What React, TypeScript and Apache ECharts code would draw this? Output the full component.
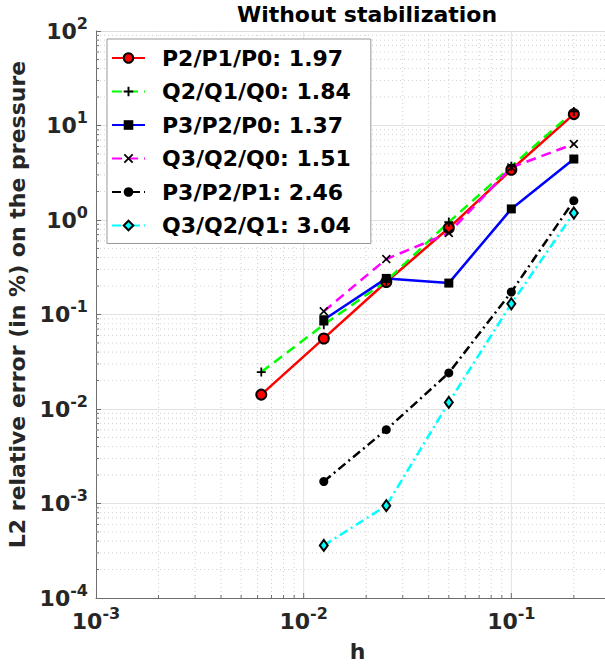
import React, { useEffect, useRef } from "react";
import * as echarts from "echarts";

const H = [0.00625, 0.0125, 0.025, 0.05, 0.1, 0.2];
const P2P1P0 = [0.0142, 0.0558, 0.221, 0.822, 3.4, 13.2];
const Q2Q1Q0 = [0.0246, 0.078, 0.226, 0.95, 3.7, 14.1];
const P3P2P0 = [null, 0.088, 0.241, 0.215, 1.31, 4.42];
const Q3Q2Q0 = [null, 0.108, 0.386, 0.728, 3.6, 6.37];
const P3P2P1 = [null, 0.00171, 0.00604, 0.0241, 0.173, 1.6];
const Q3Q2Q1 = [null, 0.00036, 0.000948, 0.01175, 0.13, 1.186];

const NAMES = [
  "P2/P1/P0: 1.97",
  "Q2/Q1/Q0: 1.84",
  "P3/P2/P0: 1.37",
  "Q3/Q2/Q0: 1.51",
  "P3/P2/P1: 2.46",
  "Q3/Q2/Q1: 3.04",
];

const X_MIN = 1e-3;
const X_MAX = 0.33;
const Y_MIN = 1e-4;
const Y_MAX = 1e2;

const X_MAJOR = [0.01, 0.1];
const X_MINOR = [
  0.002, 0.003, 0.004, 0.005, 0.006, 0.007, 0.008, 0.009,
  0.02, 0.03, 0.04, 0.05, 0.06, 0.07, 0.08, 0.09,
  0.2, 0.3,
];
const Y_MINOR = [
  2e-4, 3e-4, 4e-4, 5e-4, 6e-4, 7e-4, 8e-4, 9e-4,
  2e-3, 3e-3, 4e-3, 5e-3, 6e-3, 7e-3, 8e-3, 9e-3,
  2e-2, 3e-2, 4e-2, 5e-2, 6e-2, 7e-2, 8e-2, 9e-2,
  0.2, 0.3, 0.4, 0.5, 0.6, 0.7, 0.8, 0.9,
  2, 3, 4, 5, 6, 7, 8, 9,
  20, 30, 40, 50, 60, 70, 80, 90,
];

const FONT = "DejaVu Sans";
const PLUS = "path://M4,0H6V4H10V6H6V10H4V6H0V4H4Z";
const CROSS = "path://M1.3,0L5,3.7L8.7,0L10,1.3L6.3,5L10,8.7L8.7,10L5,6.3L1.3,10L0,8.7L3.7,5L0,1.3Z";

function pairs(vals: (number | null)[]) {
  const out: number[][] = [];
  vals.forEach((v, i) => {
    if (v !== null) out.push([H[i], v]);
  });
  return out;
}

function logLabel(v: number) {
  const e = Math.log10(v);
  const r = Math.round(e);
  if (Math.abs(e - r) > 1e-6) return "";
  return "{b|10}{s|" + r + "}";
}

const richLabel = {
  b: { fontSize: 22, fontWeight: "bold", color: "#262626", fontFamily: FONT },
  s: {
    fontSize: 16,
    fontWeight: "bold",
    color: "#262626",
    fontFamily: FONT,
    padding: [0, 0, 16, 0],
  },
};

export default function App() {
  const ref = useRef<HTMLDivElement>(null);
  useEffect(() => {
    if (!ref.current) return;
    const chart = echarts.init(ref.current, undefined, { renderer: "svg" });

    const mk = (
      name: string,
      vals: (number | null)[],
      color: string,
      type: any,
      symbol: string,
      symbolSize: any,
      fill: string,
      border: number
    ) => ({
      name,
      type: "line",
      data: pairs(vals),
      symbol,
      symbolSize,
      showSymbol: true,
      lineStyle: { color, width: 2.5, type },
      itemStyle: { color: fill, borderColor: "#000", borderWidth: border },
      emphasis: { disabled: true },
      z: 3,
    });

    const vLines = (vals: number[], dash: number[] | null, color: string, tick: number) => ({
      type: "custom",
      z: 1,
      silent: true,
      data: vals.map((x) => [x, Y_MIN]),
      renderItem: (params: any, api: any) => {
        const x = api.value(0);
        const top = api.coord([x, Y_MAX]);
        const bot = api.coord([x, Y_MIN]);
        return {
          type: "group",
          children: [
            {
              type: "line",
              shape: { x1: top[0], y1: top[1], x2: bot[0], y2: bot[1] },
              style: dash
                ? { stroke: color, lineWidth: 1, lineDash: dash }
                : { stroke: color, lineWidth: 1 },
            },
            {
              type: "line",
              shape: { x1: bot[0], y1: bot[1], x2: bot[0], y2: bot[1] - tick },
              style: { stroke: "#6e6e6e", lineWidth: 1 },
            },
          ],
        };
      },
    });

    chart.setOption({
      animation: false,
      title: {
        text: "Without stabilization",
        left: 362,
        textAlign: "center",
        top: -2,
        textStyle: { fontSize: 22, fontWeight: "bold", color: "#000", fontFamily: FONT },
      },
      grid: {
        left: 96,
        top: 31,
        width: 523,
        height: 567,
        show: false,
        containLabel: false,
        outerBoundsMode: "none",
      },
      legend: {
        data: NAMES,
        orient: "vertical",
        left: 107,
        top: 39,
        itemWidth: 33,
        itemHeight: 12,
        itemGap: 7.5,
        padding: [6, 20, 5, 4],
        backgroundColor: "#fff",
        borderColor: "#999",
        borderWidth: 1,
        borderRadius: 0,
        textStyle: {
          fontSize: 22,
          fontWeight: "bold",
          color: "#000",
          fontFamily: FONT,
          lineHeight: 26,
          padding: [0, 0, 0, 12],
        },
        selectedMode: false,
      },
      xAxis: [
        {
          type: "log",
          logBase: 10,
          min: X_MIN,
          max: X_MAX,
          name: "h",
          nameLocation: "middle",
          nameGap: 42,
          nameTextStyle: { fontSize: 22, fontWeight: "bold", color: "#262626", fontFamily: FONT },
          axisLine: { show: true, onZero: false, lineStyle: { color: "#6e6e6e", width: 1 } },
          axisTick: { show: false },
          axisLabel: { formatter: logLabel, rich: richLabel, margin: 7, showMaxLabel: false },
          splitLine: { show: false },
          minorTick: { show: false },
          minorSplitLine: { show: false },
        },
        {
          type: "log",
          logBase: 10,
          min: X_MIN,
          max: X_MAX,
          position: "top",
          axisLine: { show: true, onZero: false, lineStyle: { color: "#dcdcdc", width: 1 } },
          axisTick: { show: false },
          axisLabel: { show: false },
          splitLine: { show: false },
        },
      ],
      yAxis: {
        type: "log",
        logBase: 10,
        min: Y_MIN,
        max: Y_MAX,
        name: "L2 relative error (in %) on the pressure",
        nameLocation: "middle",
        nameGap: 54,
        nameTextStyle: {
          fontSize: 22,
          fontWeight: "bold",
          color: "#262626",
          fontFamily: FONT,
          padding: [0, 0, 0, 20],
        },
        axisLine: { show: true, onZero: false, lineStyle: { color: "#6e6e6e", width: 1 } },
        axisTick: { show: true, inside: true, length: 5, lineStyle: { color: "#6e6e6e" } },
        axisLabel: { formatter: logLabel, rich: richLabel, margin: 8 },
        splitLine: { show: true, showMinLine: false, lineStyle: { color: "#e2e2e2", width: 1 } },
        minorTick: { show: false },
        minorSplitLine: { show: false },
      },
      series: [
        vLines(X_MAJOR, null, "#e2e2e2", 5),
        vLines(X_MINOR, [1, 3], "#cfcfcf", 3),
        {
          type: "custom",
          z: 1,
          silent: true,
          data: Y_MINOR.map((y) => [X_MIN, y]),
          renderItem: (params: any, api: any) => {
            const y = api.value(1);
            const l = api.coord([X_MIN, y]);
            const r = api.coord([X_MAX, y]);
            return {
              type: "group",
              children: [
                {
                  type: "line",
                  shape: { x1: l[0], y1: l[1], x2: r[0], y2: r[1] },
                  style: { stroke: "#cfcfcf", lineWidth: 1, lineDash: [1, 3] },
                },
                {
                  type: "line",
                  shape: { x1: l[0], y1: l[1], x2: l[0] + 3, y2: l[1] },
                  style: { stroke: "#6e6e6e", lineWidth: 1 },
                },
              ],
            };
          },
        },
        mk(NAMES[0], P2P1P0, "#ff0000", "solid", "circle", 10, "#ff0000", 2),
        mk(NAMES[1], Q2Q1Q0, "#00ff00", [10, 6], PLUS, 9, "#000", 0),
        mk(NAMES[2], P3P2P0, "#0000ff", "solid", "rect", 9, "#000", 0),
        mk(NAMES[3], Q3Q2Q0, "#ff00ff", [10, 6], CROSS, 9, "#000", 0),
        mk(NAMES[4], P3P2P1, "#000000", [9, 4, 2, 4], "circle", 9, "#000", 0),
        mk(NAMES[5], Q3Q2Q1, "#00ffff", [9, 4, 2, 4], "diamond", [8, 11], "#00ffff", 2),
      ],
    });
    return () => chart.dispose();
  }, []);
  return (
    <div
      ref={ref}
      style={{ position: "fixed", left: 0, top: 0, width: 640, height: 670, background: "#fff" }}
    />
  );
}
